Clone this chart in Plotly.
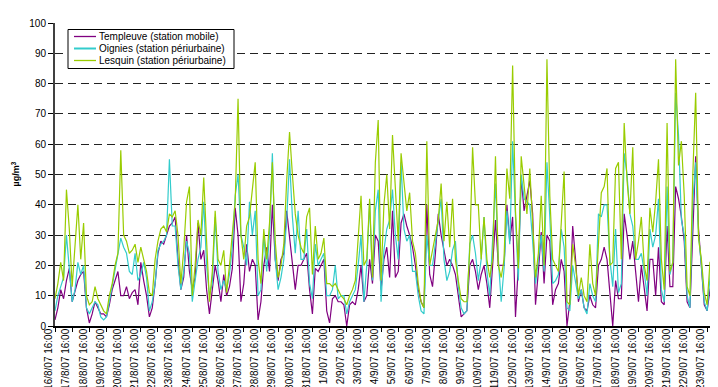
import plotly.graph_objects as go

# Day labels (ticks at 16:00 each day)
day_labels = ["16/8/07 16:00", "17/8/07 16:00", "18/8/07 16:00", "19/8/07 16:00", "20/8/07 16:00",
              "21/8/07 16:00", "22/8/07 16:00", "23/8/07 16:00", "24/8/07 16:00", "25/8/07 16:00",
              "26/8/07 16:00", "27/8/07 16:00", "28/8/07 16:00", "29/8/07 16:00", "30/8/07 16:00",
              "31/8/07 16:00", "1/9/07 16:00", "2/9/07 16:00", "3/9/07 16:00", "4/9/07 16:00",
              "5/9/07 16:00", "6/9/07 16:00", "7/9/07 16:00", "8/9/07 16:00", "9/9/07 16:00",
              "10/9/07 16:00", "11/9/07 16:00", "12/9/07 16:00", "13/9/07 16:00", "14/9/07 16:00",
              "15/9/07 16:00", "16/9/07 16:00", "17/9/07 16:00", "18/9/07 16:00", "19/9/07 16:00",
              "20/9/07 16:00", "21/9/07 16:00", "22/9/07 16:00", "23/9/07 16:00", "24/9/07 16:00"]

series_names = ["Templeuve (station mobile)", "Oignies (station périurbaine)", "Lesquin (station périurbaine)"]
series_colors = ["#800080", "#33CCCC", "#99CC00"]

# Readings every 4 hours starting 16/8/07 16:00 (µg/m3)
templeuve = [2, 6, 12, 9, 15, 19, 8, 12, 15, 17, 18, 6, 1, 4, 8, 6, 4, 4, 3, 7, 12, 15, 18, 10,
             10, 13, 9, 11, 12, 7, 21, 15, 10, 3, 6, 14, 24, 28, 27, 30, 33, 34, 36, 22, 12, 16, 30, 18,
             12, 16, 34, 22, 25, 12, 4, 12, 20, 15, 8, 17, 10, 13, 19, 39, 30, 8, 14, 27, 18, 22, 20, 2,
             8, 20, 26, 18, 40, 22, 15, 22, 24, 38, 30, 20, 12, 20, 20, 22, 24, 12, 4, 19, 18, 20, 22, 5,
             1, 9, 10, 8, 8, 7, 0, 7, 8, 7, 12, 20, 8, 10, 22, 14, 30, 28, 12, 22, 26, 16, 38, 16,
             18, 34, 37, 33, 30, 26, 20, 12, 8, 6, 40, 17, 13, 24, 37, 30, 25, 20, 22, 20, 17, 10, 3, 4,
             5, 20, 22, 18, 12, 17, 20, 14, 6, 20, 35, 20, 20, 20, 40, 28, 36, 3, 20, 49, 38, 43, 48, 37,
             7, 18, 31, 14, 30, 28, 7, 12, 14, 22, 18, 0, 8, 33, 22, 8, 12, 6, 5, 10, 7, 6, 20, 22,
             26, 22, 10, 0, 15, 9, 9, 37, 30, 22, 28, 17, 8, 20, 12, 5, 22, 22, 10, 26, 8, 7, 33, 13,
             13, 46, 42, 36, 28, 8, 6, 34, 56, 32, 18, 7, 5, 12, 15, 14, 12, 18, 16, 4]

oignies = [5, 10, 13, 16, 30, 20, 8, 12, 21, 17, 20, 6, 4, 6, 8, 7, 3, 2, 3, 8, 13, 18, 24, 29,
           26, 24, 18, 17, 24, 15, 17, 21, 16, 5, 8, 14, 25, 27, 28, 30, 55, 33, 33, 20, 12, 18, 28, 24,
           8, 15, 22, 26, 41, 20, 10, 14, 36, 18, 12, 15, 12, 17, 26, 43, 50, 30, 26, 20, 41, 30, 38, 10,
           12, 30, 18, 30, 57, 22, 12, 16, 22, 35, 55, 36, 24, 38, 22, 22, 32, 14, 9, 27, 20, 22, 24, 10,
           10, 12, 20, 9, 10, 10, 4, 8, 10, 12, 20, 30, 8, 20, 41, 15, 38, 45, 8, 25, 32, 35, 45, 30,
           22, 54, 32, 28, 30, 18, 18, 10, 5, 4, 30, 20, 20, 28, 35, 42, 22, 15, 18, 25, 28, 13, 6, 4,
           5, 27, 30, 24, 15, 22, 36, 18, 10, 28, 47, 22, 8, 19, 38, 27, 61, 36, 15, 50, 42, 41, 40, 28,
           14, 22, 30, 18, 54, 36, 14, 15, 17, 32, 26, 6, 5, 20, 15, 9, 12, 6, 4, 14, 10, 8, 37, 36,
           40, 40, 22, 13, 32, 11, 14, 57, 50, 37, 33, 22, 22, 24, 18, 10, 32, 26, 30, 42, 12, 8, 46, 17,
           21, 77, 63, 35, 30, 10, 6, 41, 54, 30, 20, 8, 5, 16, 35, 17, 22, 21, 27, 13]

lesquin = [9, 14, 21, 15, 45, 32, 13, 25, 40, 22, 34, 10, 7, 8, 13, 9, 7, 5, 4, 10, 14, 20, 24, 58,
           30, 28, 24, 25, 27, 21, 26, 22, 18, 11, 10, 22, 28, 32, 33, 31, 37, 36, 38, 30, 14, 25, 41, 46,
           10, 20, 35, 30, 49, 28, 8, 18, 38, 22, 20, 25, 11, 20, 30, 41, 75, 30, 22, 33, 36, 44, 54, 22,
           14, 32, 22, 34, 54, 28, 16, 20, 27, 48, 64, 50, 37, 30, 26, 24, 36, 39, 17, 33, 22, 24, 29, 14,
           14, 13, 14, 12, 10, 9, 7, 10, 12, 15, 30, 43, 20, 22, 42, 16, 54, 68, 15, 40, 50, 32, 63, 45,
           28, 57, 47, 38, 44, 28, 24, 14, 8, 6, 61, 20, 25, 30, 35, 47, 28, 41, 26, 42, 22, 15, 9, 8,
           8, 25, 59, 40, 40, 22, 36, 22, 16, 22, 56, 20, 16, 22, 52, 42, 86, 38, 19, 56, 46, 37, 52, 35,
           16, 24, 43, 20, 88, 43, 22, 20, 18, 34, 51, 8, 7, 27, 20, 10, 16, 10, 8, 27, 14, 10, 28, 44,
           46, 52, 20, 21, 52, 54, 22, 67, 48, 37, 59, 22, 28, 36, 20, 15, 39, 31, 41, 55, 22, 12, 67, 18,
           21, 88, 53, 61, 43, 13, 10, 50, 77, 29, 22, 11, 7, 21, 22, 23, 28, 26, 30, 16]

STEP_H = 4
x_days = [i * STEP_H / 24 for i in range(len(templeuve))]

FONT = "Arial, 'Liberation Sans', sans-serif"

fig = go.Figure()
for name, color, vals in zip(series_names, series_colors, [templeuve, oignies, lesquin]):
    fig.add_trace(go.Scatter(x=x_days, y=vals, mode="lines", name=name,
                             line=dict(color=color, width=1.2)))

# Legend drawn in pixel-like paper coordinates
PL, PT, PW, PH = 47, 15, 671, 303   # plot area in pixels
def px(xp):
    return (xp - PL) / PW
def py(yp):
    return 1 - (yp - PT) / PH

shapes = [dict(type="rect", xref="paper", yref="paper", x0=px(60), x1=px(226), y0=py(60.5), y1=py(21.5),
               line=dict(color="black", width=1), fillcolor="white", layer="above")]
annotations = []
rows_y = [28.5, 40.5, 52.5]
for name, color, ry in zip(series_names, series_colors, rows_y):
    shapes.append(dict(type="line", xref="paper", yref="paper", x0=px(66), x1=px(88), y0=py(ry), y1=py(ry),
                       line=dict(color=color, width=2 if color == "#33CCCC" else 1.3), layer="above"))
    annotations.append(dict(text=name, xref="paper", yref="paper", x=px(89), y=py(ry),
                            xanchor="left", yanchor="middle", showarrow=False,
                            font=dict(family=FONT, size=10, color="black")))

annotations.append(dict(text="<b>µg/m<sup>3</sup></b>", xref="paper", yref="paper",
                        x=px(7), y=0.5, xanchor="center", yanchor="middle",
                        textangle=-90, showarrow=False,
                        font=dict(family=FONT, size=9, color="black")))

fig.update_layout(
    width=718, height=387,
    margin=dict(l=PL, r=0, t=PT, b=387 - PT - PH),
    paper_bgcolor="white", plot_bgcolor="white",
    font=dict(family=FONT, size=10, color="black"),
    showlegend=False,
    xaxis=dict(range=[0, 39.1], tickmode="array", tickvals=list(range(len(day_labels))),
               ticktext=day_labels, tickangle=-90, showgrid=False, zeroline=False,
               showline=True, linecolor="black", linewidth=1.5,
               ticks="outside", ticklen=4, tickcolor="black",
               ticklabelshift=-6, ticklabelstandoff=-7,
               tickfont=dict(family=FONT, size=10, color="black")),
    yaxis=dict(range=[0, 100], tickmode="linear", tick0=0, dtick=10,
               showgrid=True, gridcolor="#222222", gridwidth=1, griddash="8px,5px",
               zeroline=False, showline=True, linecolor="#404040", linewidth=2,
               ticks="outside", ticklen=5, tickcolor="black",
               tickfont=dict(family=FONT, size=10, color="black")),
    shapes=shapes,
    annotations=annotations,
)

fig.write_html("out.html")
